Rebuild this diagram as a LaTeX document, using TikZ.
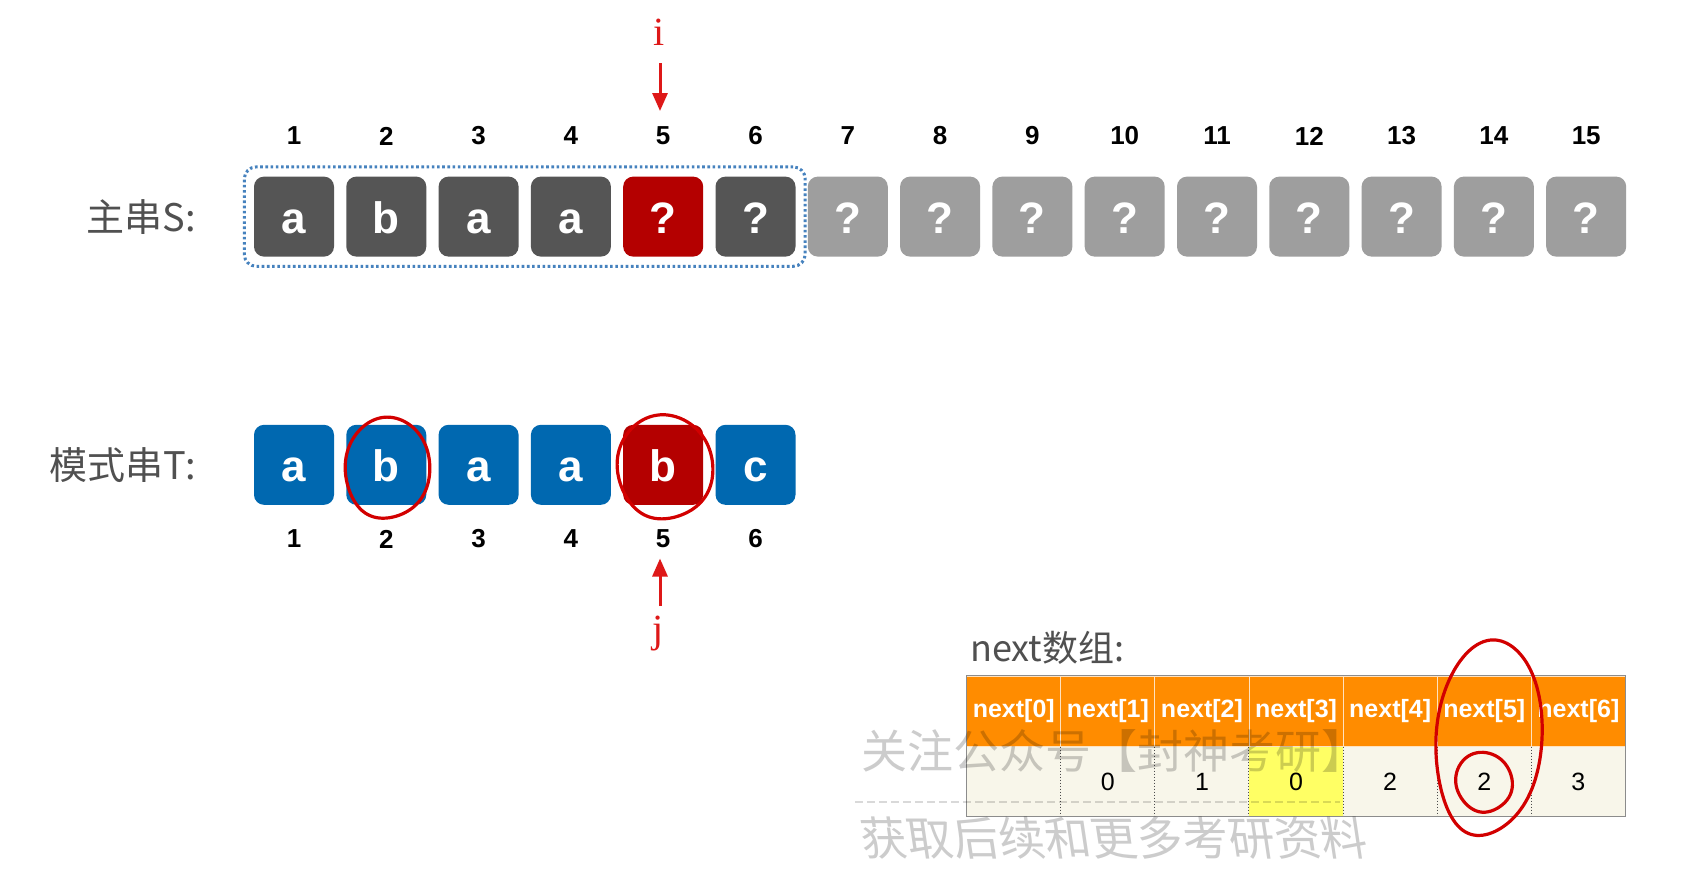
\documentclass[tikz,border=0pt]{standalone}
\usepackage{fontspec}
\setmainfont{Liberation Sans}
\newfontfamily\cjk{Noto Sans CJK SC}
\newfontfamily\serifi{Liberation Serif}
\usetikzlibrary{arrows.meta,fit}
\definecolor{dkbox}{RGB}{85,85,85}
\definecolor{redbox}{RGB}{180,0,0}
\definecolor{ltbox}{RGB}{158,158,158}
\definecolor{bluebox}{RGB}{0,104,176}
\definecolor{dotblue}{RGB}{70,130,190}
\definecolor{hdr}{RGB}{255,140,0}
\definecolor{cream}{RGB}{248,246,234}
\definecolor{ylw}{RGB}{255,255,100}
\definecolor{pen}{RGB}{210,0,0}
\definecolor{arr}{RGB}{222,24,24}
\definecolor{lbl}{RGB}{80,80,80}
\newcommand\handloop[5]{%
  \draw[pen,line width=3.2pt,rotate around={#5:(#1,#2)}]
    plot[smooth,domain=15:395,samples=60,variable=\a]
    ({#1+#3*cos(\a)*(1+0.03*sin(2*\a))},{#2+#4*sin(\a)*(1+0.02*cos(3*\a))});}
\begin{document}
\begin{tikzpicture}[x=1pt,y=-1pt,
  cell/.style={minimum width=80pt,minimum height=80pt,rounded corners=10pt,inner sep=0pt,
    text height=32.8pt,text depth=0pt,
    text=white,font=\fontsize{44}{48}\selectfont\bfseries},
  idx/.style={font=\fontsize{26}{30}\selectfont\bfseries,inner sep=0pt},
  lab/.style={anchor=east,text=lbl,font=\cjk\fontsize{38}{42}\selectfont,inner sep=0pt},
  ptr/.style={arr,line width=3pt,-{Triangle[length=18pt,width=15pt]}},
  ptrlbl/.style={text=arr,font=\serifi\fontsize{40}{44}\selectfont,inner sep=0pt},
  hcell/.style={fill=hdr,draw=white!75!hdr,line width=1pt,minimum width=94.1pt,minimum height=70.8pt,
    inner sep=0pt,text=white,font=\fontsize{25}{28}\selectfont\bfseries},
  vcell/.style={minimum width=94.1pt,minimum height=69.7pt,inner sep=0pt,
    font=\fontsize{25}{28}\selectfont},
  wm/.style={text=black,opacity=0.2,font=\cjk\fontsize{46}{50}\selectfont,inner sep=0pt}
]
\fill[white] (0,0) rectangle (1707,868);
\useasboundingbox (0,0) rectangle (1707,868);

% main string S
\foreach \k/\c/\t in {1/dkbox/a,2/dkbox/b,3/dkbox/a,4/dkbox/a,5/redbox/?,6/dkbox/?,
  7/ltbox/?,8/ltbox/?,9/ltbox/?,10/ltbox/?,11/ltbox/?,12/ltbox/?,13/ltbox/?,14/ltbox/?,15/ltbox/?}{
  \node[cell,fill=\c] (s\k) at ({294+(\k-1)*92.3},216.6) {\t};
  \node[idx] (sn\k) at ({294+(\k-1)*92.3},136) {\k};
}
\node[fit=(s1)(s6),inner sep=9.5pt,draw=dotblue,line width=3pt,dash pattern=on 2.6pt off 2.6pt,
  rounded corners=12pt] (win) {};
\node[lab] (ls) at (196,216.6) {主串S:};

% pattern T
\foreach \k/\c/\t in {1/bluebox/a,2/bluebox/b,3/bluebox/a,4/bluebox/a,5/redbox/b,6/bluebox/c}{
  \node[cell,fill=\c] (t\k) at ({294+(\k-1)*92.3},464.8) {\t};
  \node[idx] (tn\k) at ({294+(\k-1)*92.3},539) {\k};
}
\node[lab] (lt) at (196,464.8) {模式串T:};

% pointers
\node[ptrlbl] (ilbl) at (659,32) {i};
\coordinate (itop) at (660,63);
\coordinate (ibot) at (660,111);
\draw[ptr] (itop) -- (ibot);
\node[ptrlbl] (jlbl) at (658,634) {j};
\coordinate (jbot) at (660,606);
\coordinate (jtop) at (660,558.5);
\draw[ptr] (jbot) -- (jtop);

% next array
\node[anchor=west,text=lbl,font=\cjk\fontsize{36}{40}\selectfont,inner sep=0pt] (nl) at (970,647.7) {next数组:};
\foreach \k/\v/\f in {0//cream,1/0/cream,2/1/cream,3/0/ylw,4/2/cream,5/2/cream,6/3/cream}{
  \node[hcell] (h\k) at ({966.7+94.1*(\k+0.5)},711.4) {next[\k]};
  \node[vcell,fill=\f] (v\k) at ({966.7+94.1*(\k+0.5)},781.65) {\v};
}
\foreach \k in {1,...,6}{
  \draw[black!70,line width=0.8pt,dash pattern=on 1.5pt off 1.5pt] (v\k.north west) -- (v\k.south west);
}
\draw[black!45,line width=1pt] (h0.north west) rectangle (v6.south east);

% watermark
\node[wm] (wm1) at (1114,751) {关注公众号【封神考研】};
\draw[black,opacity=0.15,line width=1.5pt,dash pattern=on 8pt off 4pt] (855,802) -- (1340,802);
\node[wm,xslant=-0.15] (wm2) at (1114,838) {获取后续和更多考研资料};

% hand-drawn red marks
\handloop{387.5}{468}{42.5}{50.6}{-8}
\handloop{665}{467}{48}{52}{-4}
\handloop{1489}{738}{53}{98}{-6}
\handloop{1484}{782}{28}{30}{10}
\end{tikzpicture}
\end{document}
